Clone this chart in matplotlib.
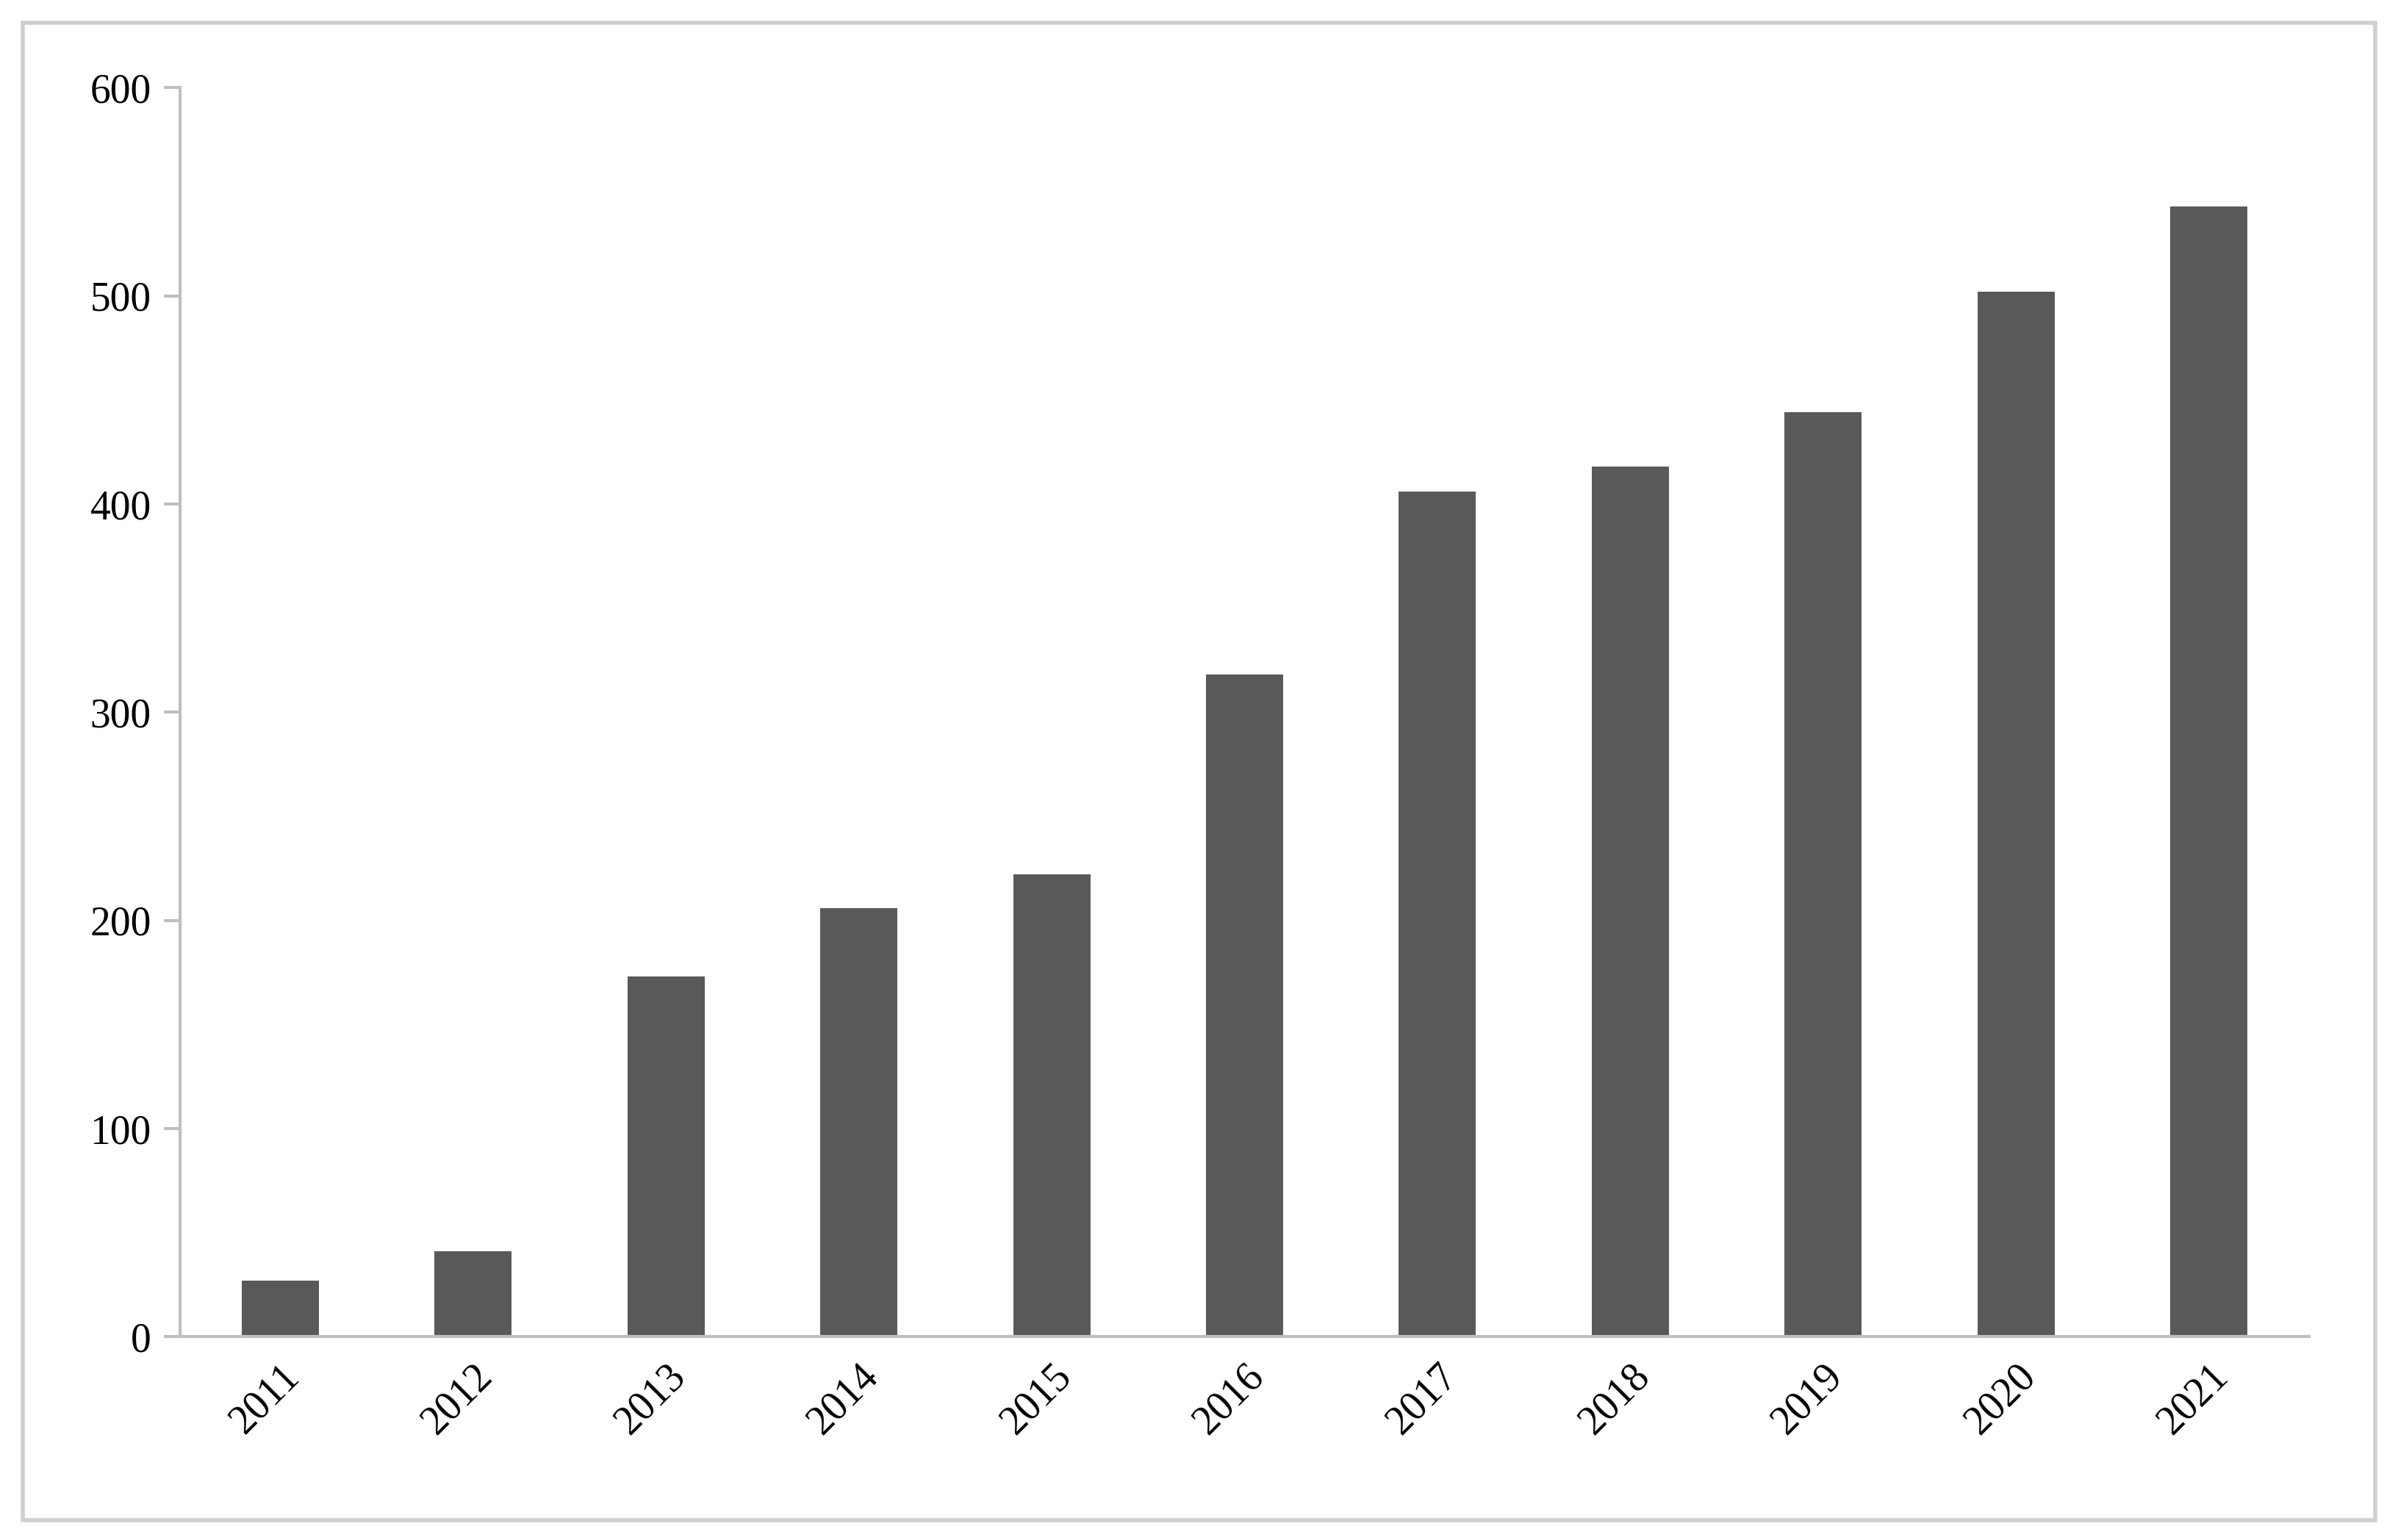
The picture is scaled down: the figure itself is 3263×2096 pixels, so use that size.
import matplotlib

matplotlib.use("Agg")

import matplotlib.pyplot as plt
from matplotlib.patches import Rectangle

years = ["2011", "2012", "2013", "2014", "2015", "2016",
         "2017", "2018", "2019", "2020", "2021"]
values = [27, 41, 173, 206, 222, 318, 406, 418, 444, 502, 543]

plt.rcParams["font.family"] = ["Liberation Serif", "DejaVu Serif"]

fig = plt.figure(figsize=(16.315, 10.48), dpi=200)
ax = fig.add_axes([0.075, 0.132, 0.888, 0.811])

ax.bar(range(len(years)), values, width=0.4, color="#595959")
ax.set_xlim(-0.52, 10.52)
ax.set_ylim(0, 600)
ax.set_yticks(range(0, 601, 100))
ax.set_xticks(range(len(years)))
ax.set_xticklabels(years, rotation=45, ha="right", va="top", rotation_mode="anchor")

for side in ("top", "right"):
    ax.spines[side].set_visible(False)
for side in ("left", "bottom"):
    ax.spines[side].set_color("#bfbfbf")
    ax.spines[side].set_linewidth(1.5)
ax.tick_params(axis="y", length=8, width=1.5, color="#bfbfbf", labelsize=20, pad=6)
ax.tick_params(axis="x", length=0, labelsize=20, pad=10)

fig.patches.append(Rectangle((0.0096, 0.013), 0.981, 0.972, transform=fig.transFigure,
                             fill=False, edgecolor="#d0d0d0", linewidth=2))

fig.savefig("out.png", dpi=200)
